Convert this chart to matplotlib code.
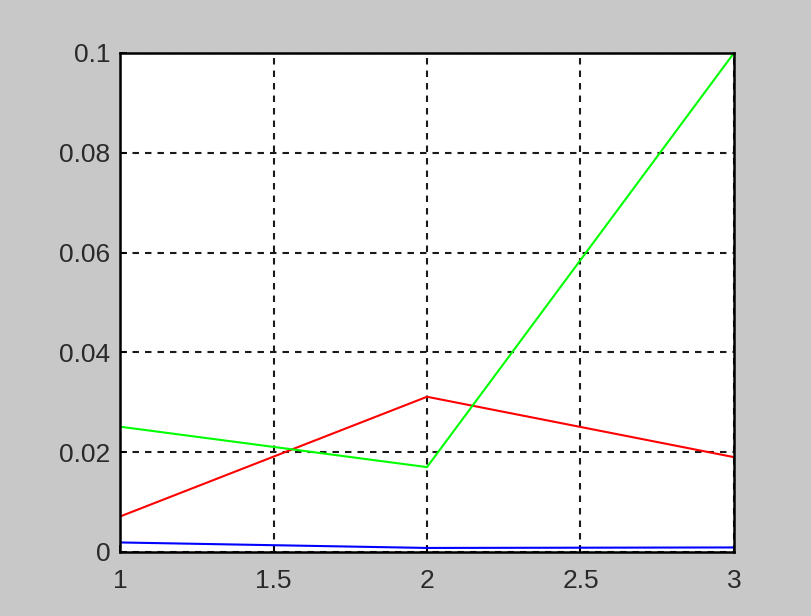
import matplotlib
matplotlib.use("Agg")
import matplotlib.pyplot as plt

# three runs sampled at x = 1, 2, 3
x = [1, 2, 3]
blue_vals = [0.0019, 0.0008, 0.0009]
red_vals = [0.0071, 0.0311, 0.0190]
green_vals = [0.0251, 0.0170, 0.1000]

x_ticks = [1, 1.5, 2, 2.5, 3]
x_labels = ["1", "1.5", "2", "2.5", "3"]
y_ticks = [0, 0.02, 0.04, 0.06, 0.08, 0.1]
y_labels = ["0", "0.02", "0.04", "0.06", "0.08", "0.1"]

plt.rcParams["font.family"] = ["Liberation Sans", "DejaVu Sans"]

fig = plt.figure(figsize=(8.11, 6.16), dpi=100, facecolor="#c8c8c8")
ax = fig.add_axes([0.148, 0.104, 0.757, 0.810])
ax.set_facecolor("white")

ax.plot(x, blue_vals, color="#0000ff", linewidth=1.5)
ax.plot(x, red_vals, color="#ff0000", linewidth=1.5)
ax.plot(x, green_vals, color="#00ff00", linewidth=1.5)

ax.set_xlim(1, 3)
ax.set_ylim(0, 0.1)
ax.set_xticks(x_ticks)
ax.set_xticklabels(x_labels)
ax.set_yticks(y_ticks)
ax.set_yticklabels(y_labels)

# MATLAB-style dashed grid and inward ticks
ax.grid(True, color="#1a1a1a", linestyle=(0, (3.1, 2.9)), linewidth=1.5)
ax.tick_params(direction="in", length=5, width=1.2, labelsize=19,
               colors="black", labelcolor="#2a2a2a")
ax.tick_params(axis="x", pad=12)
ax.tick_params(axis="y", pad=7)
for side in ax.spines.values():
    side.set_linewidth(1.8)
    side.set_color("black")

fig.savefig("out.png", dpi=100, facecolor=fig.get_facecolor())
